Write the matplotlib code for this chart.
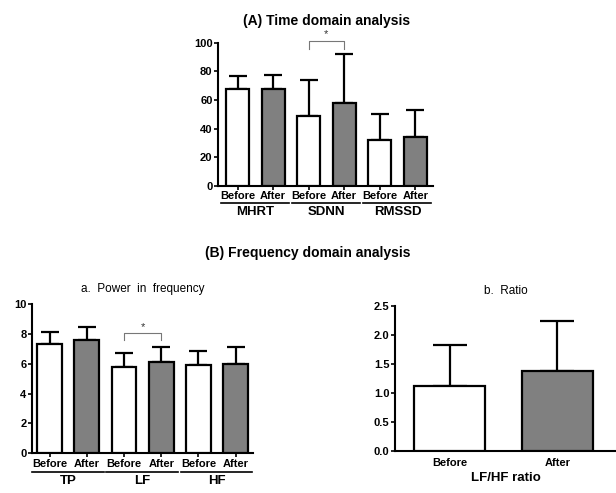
import numpy as np
import matplotlib.pyplot as plt
from matplotlib.transforms import blended_transform_factory

plt.rcParams['font.family'] = ['Liberation Sans', 'DejaVu Sans']

# data
sub_labels = ['Before', 'After']
time_groups = ['MHRT', 'SDNN', 'RMSSD']
time_mean = [68, 68, 49, 58, 32, 34]
time_err = [9, 9.5, 25, 34.5, 18, 19]

freq_groups = ['TP', 'LF', 'HF']
freq_mean = [7.3, 7.6, 5.8, 6.1, 5.9, 6.0]
freq_err = [0.85, 0.9, 0.95, 1.05, 0.95, 1.1]

ratio_labels = ['Before', 'After']
ratio_mean = [1.12, 1.39]
ratio_err = [0.71, 0.86]

fills = ['white', '#808080']

fig = plt.figure(figsize=(6.16, 4.93), dpi=100)


def style_axis(ax):
    for sp in ['top', 'right']:
        ax.spines[sp].set_visible(False)
    ax.spines['left'].set_linewidth(1.5)
    ax.spines['bottom'].set_linewidth(1.5)
    ax.tick_params(width=1.2, length=3, labelsize=8, pad=1)
    for lab in ax.get_yticklabels() + ax.get_xticklabels():
        lab.set_fontweight('bold')


def bars(ax, mean, err, width, cap):
    x = np.arange(len(mean))
    cols = [fills[i % 2] for i in range(len(mean))]
    ax.bar(x, mean, width=width, color=cols, edgecolor='black', linewidth=1.6, zorder=3)
    ax.errorbar(x, mean, yerr=[np.zeros(len(mean)), err], fmt='none', ecolor='black',
                elinewidth=1.6, capsize=cap, capthick=1.6, zorder=2)
    return x


def groups(ax, names, y_line, y_text):
    tr = blended_transform_factory(ax.transData, ax.transAxes)
    for g, name in enumerate(names):
        ax.plot([2 * g - 0.48, 2 * g + 1.45], [y_line, y_line], color='black', lw=1.2,
                transform=tr, clip_on=False)
        ax.text(2 * g + 0.5, y_text, name, transform=tr, ha='center', va='center',
                fontsize=9.5, fontweight='bold')


def bracket(ax, x0, x1, y0, y1, ys):
    ax.plot([x0, x0, x1, x1], [y0, y1, y1, y0], color='#777777', lw=0.8, clip_on=False)
    ax.text((x0 + x1) / 2, ys, '*', ha='center', va='center', fontsize=8, color='#333333')


# (A) time domain
ax1 = fig.add_axes([0.354, 0.623, 0.349, 0.290])
x = bars(ax1, time_mean, time_err, 0.65, 6.5)
ax1.set_xlim(-0.55, 5.5)
ax1.set_ylim(0, 100)
ax1.set_yticks([0, 20, 40, 60, 80, 100])
ax1.set_xticks(x)
ax1.set_xticklabels(sub_labels * 3)
style_axis(ax1)
groups(ax1, time_groups, -0.119, -0.185)
bracket(ax1, 2, 3, 96, 101.5, 106)
fig.text(0.53, 0.958, '(A) Time domain analysis', ha='center', va='center',
         fontsize=10, fontweight='bold')

# (B) frequency domain
fig.text(0.50, 0.487, '(B) Frequency domain analysis', ha='center', va='center',
         fontsize=10, fontweight='bold')

ax2 = fig.add_axes([0.052, 0.081, 0.359, 0.302])
x = bars(ax2, freq_mean, freq_err, 0.67, 6.5)
ax2.set_xlim(-0.47, 5.47)
ax2.set_ylim(0, 10)
ax2.set_yticks([0, 2, 4, 6, 8, 10])
ax2.set_xticks(x)
ax2.set_xticklabels(sub_labels * 3)
style_axis(ax2)
groups(ax2, freq_groups, -0.128, -0.19)
bracket(ax2, 2, 3, 7.6, 8.05, 8.45)
ax2.set_title('a.  Power  in  frequency', fontsize=8.5, pad=9)

ax3 = fig.add_axes([0.641, 0.085, 0.36, 0.294])
x = bars(ax3, ratio_mean, ratio_err, 0.66, 12)
ax3.set_xlim(-0.51, 1.55)
ax3.set_ylim(0, 2.5)
ax3.set_yticks([0, 0.5, 1.0, 1.5, 2.0, 2.5])
ax3.set_yticklabels(['0.0', '0.5', '1.0', '1.5', '2.0', '2.5'])
ax3.set_xticks(x)
ax3.set_xticklabels(ratio_labels)
style_axis(ax3)
ax3.tick_params(axis='x', length=0, pad=5)
ax3.set_xlabel('LF/HF ratio', fontsize=9.5, fontweight='bold', labelpad=3)
ax3.set_title('b.  Ratio', fontsize=8.5, pad=9)

fig.savefig('out.png', dpi=100)
